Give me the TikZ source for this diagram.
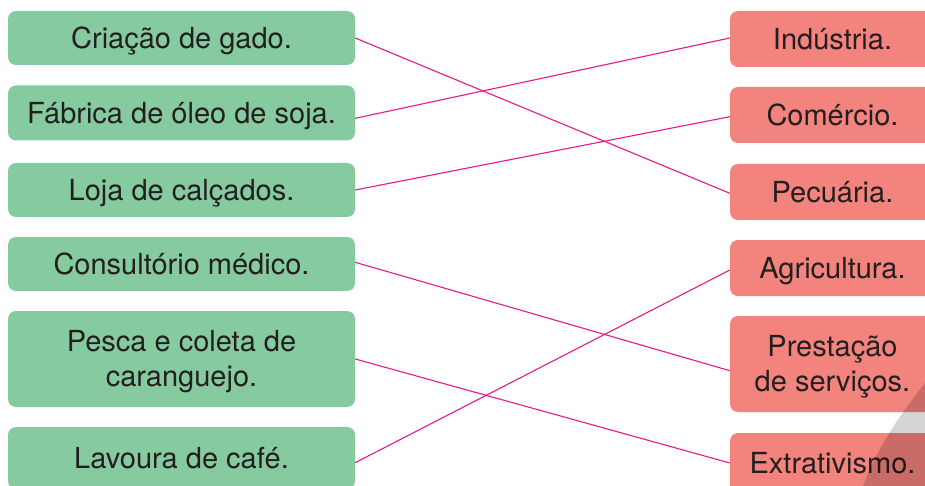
\documentclass[tikz,border=0pt]{standalone}
\usepackage{fontspec}
\setmainfont{TeX Gyre Heros}
\definecolor{boxgreen}{HTML}{86CA9F}
\definecolor{boxpink}{HTML}{F2837D}
\definecolor{linkmag}{HTML}{E6198A}
\definecolor{txt}{HTML}{231F20}
\begin{document}
\begin{tikzpicture}[x=1pt,y=-1pt,
  every node/.style={font=\fontsize{29}{35}\selectfont, text=txt, inner sep=0pt, align=center},
  lbox/.style={fill=boxgreen, rounded corners=8pt, minimum width=347pt, text height=20.8pt, text depth=0pt},
  rbox/.style={fill=boxpink, rounded corners=8pt, minimum width=205pt, text height=20.8pt, text depth=0pt},
  twoline/.style={text height=55.8pt, text depth=0pt},
  link/.style={draw=linkmag, line width=1.1pt}]
\useasboundingbox (0,0) rectangle (925,486);
\clip (0,0) rectangle (925,486);
% left boxes
\node[lbox, minimum height=54pt] (cri) at (181.5,38) {Criação de gado.};
\node[lbox, minimum height=55pt] (fab) at (181.5,113) {Fábrica de óleo de soja.};
\node[lbox, minimum height=54pt] (loj) at (181.5,190) {Loja de calçados.};
\node[lbox, minimum height=54pt] (con) at (181.5,264) {Consultório médico.};
\node[lbox, twoline, minimum height=96pt] (pes) at (181.5,359) {Pesca e coleta de\\caranguejo.};
\node[lbox, minimum height=62pt] (lav) at (181.5,458) {Lavoura de café.};
% right boxes
\node[rbox, minimum height=56pt] (ind) at (832.5,39) {Indústria.};
\node[rbox, minimum height=56pt] (com) at (832.5,115) {Comércio.};
\node[rbox, minimum height=56pt] (pec) at (832.5,192) {Pecuária.};
\node[rbox, minimum height=56pt] (agr) at (832.5,268) {Agricultura.};
\node[rbox, twoline, minimum height=96pt] (pre) at (832.5,364) {Prestação\\de serviços.};
\node[rbox, minimum height=60pt] (ext) at (832.5,463) {Extrativismo.};
% grey shape
\fill[black, fill opacity=0.17] (925,383) .. controls (905,408) and (878,445) .. (863,486) -- (925,486) -- cycle;
% connectors
\draw[link] (cri.east) -- ([yshift=-1.3pt]pec.west);
\draw[link] ([yshift=-5.3pt]fab.east) -- ([yshift=1pt]ind.west);
\draw[link] (loj.east) -- ([yshift=-1.7pt]com.west);
\draw[link] ([yshift=1.7pt]con.east) -- ([yshift=-6.7pt]pre.west);
\draw[link] (pes.east) -- (ext.west);
\draw[link] ([yshift=-4.7pt]lav.east) -- ([yshift=-2pt]agr.west);
\end{tikzpicture}
\end{document}
